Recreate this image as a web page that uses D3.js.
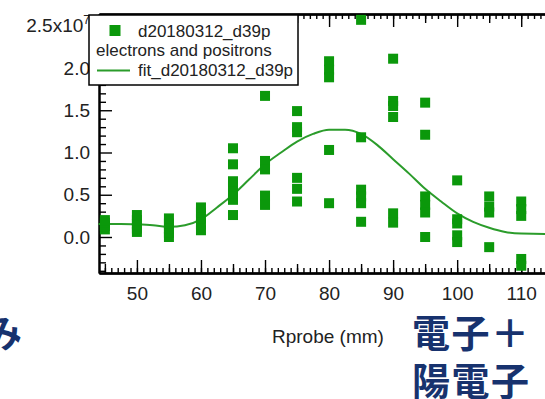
<!DOCTYPE html>
<html>
<head>
<meta charset="utf-8">
<script src="https://cdn.jsdelivr.net/npm/d3@7"></script>
<style>
  html, body { margin: 0; padding: 0; background: #fff; }
  svg { display: block; font-family: "Liberation Sans", Arial, sans-serif; }
</style>
</head>
<body>
<svg id="chart" width="545" height="399"></svg>
<script>
// Probe radius (mm) for each measurement column
const rprobe = [45, 50, 55, 60, 65, 70, 75, 80, 85, 90, 95, 100, 105, 110];

// Measured signal (x10^7) at each probe radius, one list per column
const signal = [
  [0.09, 0.13, 0.17, 0.20],
  [0.06, 0.10, 0.15, 0.20, 0.26],
  [0.00, 0.05, 0.10, 0.16, 0.22],
  [0.08, 0.15, 0.22, 0.29, 0.35],
  [0.26, 0.44, 0.52, 0.60, 0.66, 0.86, 1.05],
  [1.67, 0.90, 0.80, 0.49, 0.38],
  [1.49, 1.30, 1.24, 0.70, 0.57, 0.42],
  [2.08, 1.98, 1.89, 1.03, 0.40],
  [2.57, 1.18, 0.56, 0.48, 0.40, 0.18],
  [2.11, 1.61, 1.55, 1.42, 0.28, 0.17],
  [1.59, 1.21, 0.48, 0.38, 0.29, 0.00],
  [0.67, 0.21, 0.16, 0.02, -0.06],
  [0.48, 0.36, 0.29, -0.12],
  [0.42, 0.33, 0.25, -0.26, -0.34]
];

// Fitted curve, sampled along Rprobe
const fitR   = [44, 47.5, 50, 52.5, 55, 57.5, 60, 62.5, 65, 67.5, 70, 72.5, 75, 77.5, 80, 82.5, 85, 87.5, 90, 92.5, 95, 97.5, 100, 102.5, 105, 107.5, 110, 115, 122];
const fitVal = [0.155, 0.155, 0.15, 0.14, 0.12, 0.14, 0.21, 0.35, 0.50, 0.68, 0.86, 1.00, 1.13, 1.22, 1.27, 1.27, 1.22, 1.09, 0.92, 0.75, 0.57, 0.42, 0.28, 0.18, 0.11, 0.06, 0.04, 0.035, 0.035];

// Axis ticks and labels
const xTicks = [50, 60, 70, 80, 90, 100, 110];
const yTicks = [0, 0.5, 1.0, 1.5, 2.0, 2.5];
const yTickLabels = ["0.0", "0.5", "1.0", "1.5", "2.0", "2.5x10"];
const yExponent = "7";

const legendLabels = ["d20180312_d39p", "electrons and positrons", "fit_d20180312_d39p"];
const xTitle = "Rprobe (mm)";
const captionLines = ["電子＋", "陽電子"];
const leftFragment = "み";

const markerColor = "#0b980b";
const fitColor = "#2b9c2b";
const navy = "#17326e";

(function draw() {
  const svg = d3.select("#chart");

  const pL = 99, pR = 600, pT = 14, pB = 273;
  const x = d3.scaleLinear().domain([44.08, 122.3]).range([pL, pR]);
  const y = d3.scaleLinear().domain([-0.426, 2.639]).range([pB, pT]);

  // --- axes (ticks point inward) ---
  function styleAxis(g, w) {
    g.selectAll(".domain").attr("stroke", "#000").attr("stroke-width", w);
    g.selectAll(".tick line").attr("stroke", "#000").attr("stroke-width", 1.4);
  }

  const minorX = d3.range(45, 123, 1);
  const midX = d3.range(45, 123, 5).filter(v => v % 10 !== 0);
  const majorX = d3.range(50, 123, 10);
  const minorY = d3.range(-4, 27, 1).filter(v => v % 5 !== 0).map(v => v / 10);
  const majorY = d3.range(0, 26, 5).map(v => v / 10);

  const xTickSets = [[minorX, 5], [midX, 9], [majorX, 13]];
  xTickSets.forEach(([vals, len]) => {
    const g = svg.append("g").attr("transform", `translate(0,${pB})`)
      .call(d3.axisBottom(x).tickValues(vals).tickSizeInner(-len).tickSizeOuter(0).tickFormat(""));
    styleAxis(g, 2);
  });
  xTickSets.forEach(([vals, len]) => {
    const g = svg.append("g").attr("transform", `translate(0,${pT})`)
      .call(d3.axisTop(x).tickValues(vals).tickSizeInner(-len).tickSizeOuter(0).tickFormat(""));
    styleAxis(g, 2);
  });
  [[minorY, 7], [majorY, 13]].forEach(([vals, len]) => {
    const g = svg.append("g").attr("transform", `translate(${pL},0)`)
      .call(d3.axisLeft(y).tickValues(vals).tickSizeInner(-len).tickSizeOuter(0).tickFormat(""));
    styleAxis(g, 2);
  });

  // tick labels
  const xLab = svg.append("g").attr("transform", `translate(0,${pB})`)
    .call(d3.axisBottom(x).tickValues(xTicks).tickSize(0).tickPadding(14).tickFormat(d => d));
  xLab.select(".domain").remove();
  xLab.selectAll("text").attr("font-size", 19).attr("font-family", "Liberation Sans, Arial, sans-serif").attr("fill", "#222");

  const yLab = svg.append("g").attr("transform", `translate(${pL},0)`)
    .call(d3.axisLeft(y).tickValues(yTicks).tickSize(0).tickPadding(9).tickFormat((d, i) => yTickLabels[i]));
  yLab.select(".domain").remove();
  yLab.selectAll("text").attr("font-size", 19).attr("font-family", "Liberation Sans, Arial, sans-serif").attr("fill", "#222");
  yLab.selectAll("text").filter((d, i) => i === yTicks.length - 1)
    .append("tspan").attr("font-size", 12).attr("dy", "-0.7em").text(yExponent);

  // --- fit curve ---
  const plot = svg.append("g");
  plot.append("path")
    .datum(fitR.map((r, i) => [r, fitVal[i]]))
    .attr("fill", "none")
    .attr("stroke", fitColor)
    .attr("stroke-width", 2)
    .attr("d", d3.line().x(d => x(d[0])).y(d => y(d[1])).curve(d3.curveMonotoneX));

  // --- markers ---
  const pts = rprobe.flatMap((r, i) => signal[i].map(v => ({ r, v })));
  const ms = 10;
  plot.selectAll("rect.pt").data(pts).join("rect")
    .attr("class", "pt")
    .attr("x", d => x(d.r) - ms / 2)
    .attr("y", d => y(d.v) - ms / 2)
    .attr("width", ms).attr("height", ms)
    .attr("fill", markerColor);

  // --- legend ---
  const lg = svg.append("g");
  lg.append("rect").attr("x", 89).attr("y", 15).attr("width", 209).attr("height", 70)
    .attr("fill", "#fff").attr("stroke", "#000").attr("stroke-width", 1.5);
  lg.append("rect").attr("x", 109.5).attr("y", 25).attr("width", 11).attr("height", 11).attr("fill", markerColor);
  lg.append("line").attr("x1", 97).attr("x2", 130).attr("y1", 70.5).attr("y2", 70.5)
    .attr("stroke", fitColor).attr("stroke-width", 2);
  lg.selectAll("text").data(legendLabels).join("text")
    .attr("x", (d, i) => i === 1 ? 96 : 138)
    .attr("y", (d, i) => [37, 56, 76][i])
    .attr("font-size", 17)
    .attr("fill", "#222")
    .text(d => d);

  // --- axis title ---
  svg.append("text").attr("x", 272).attr("y", 343).attr("font-size", 19).attr("fill", "#222").text(xTitle);

  // --- caption text ---
  const cjk = "'Noto Sans CJK JP', 'Noto Sans CJK SC', sans-serif";
  svg.selectAll("text.cap").data(captionLines).join("text")
    .attr("class", "cap")
    .attr("x", 412).attr("y", (d, i) => 347 + i * 48)
    .attr("font-family", cjk).attr("font-weight", 700).attr("font-size", 38)
    .attr("letter-spacing", 1.5)
    .attr("fill", navy)
    .text(d => d);
  svg.append("text").attr("x", -16).attr("y", 347)
    .attr("font-family", cjk).attr("font-weight", 700).attr("font-size", 38)
    .attr("fill", navy).text(leftFragment);
})();
</script>
</body>
</html>
